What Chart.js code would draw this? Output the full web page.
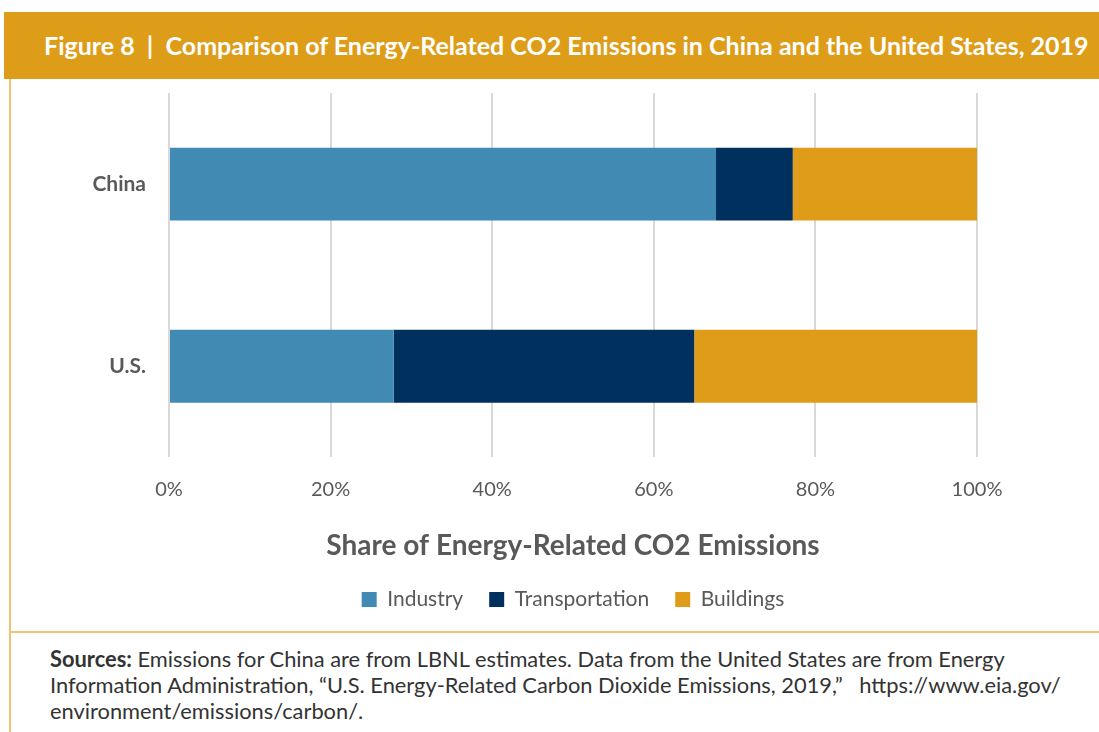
<!DOCTYPE html>
<html>
<head>
    <title>Figure 8</title>
    <script src="https://cdn.jsdelivr.net/npm/chart.js"></script>
    <style>
        body { margin: 0; background: #fff; width: 1099px; height: 732px; position: relative; overflow: hidden; font-family: Lato, sans-serif; }
        .header { position: absolute; left: 4px; top: 12px; width: 1095px; height: 67px; background: #DE9D19; }
        .header h1 { margin: 0; position: absolute; left: 40px; top: 18px; color: #fff; font-size: 25px; font-weight: bold; white-space: nowrap; }
        .vline { position: absolute; left: 9px; top: 79px; width: 2px; height: 653px; background: #EFC374; }
        .hline { position: absolute; left: 9px; top: 631px; width: 1090px; height: 2px; background: #EFC374; }
        .chartbox { position: absolute; left: 11px; top: 60px; width: 1088px; height: 570px; }
        .sources { position: absolute; left: 50px; top: 646px; color: #333; font-size: 21.85px; line-height: 26px; white-space: nowrap; }
    </style>
</head>
<body>
    <div class="header"><h1>Figure 8&nbsp; |&nbsp; Comparison of Energy-Related CO2 Emissions in China and the United States, 2019</h1></div>
    <div class="vline"></div>
    <div class="hline"></div>
    <div class="chartbox"><canvas id="co2Chart" width="1088" height="570"></canvas></div>
    <div class="sources"><b>Sources:</b> Emissions for China are from LBNL estimates. Data from the United States are from Energy<br>Information Administration, “U.S. Energy-Related Carbon Dioxide Emissions, 2019,”&nbsp;&nbsp; https://www.eia.gov/<br>environment/emissions/carbon/.</div>

    <script>
        // Shares of energy-related CO2 (percent)
        const countries = ['China', 'U.S.'];
        const industry = [67.7, 27.8];
        const transportation = [9.5, 37.2];
        const buildings = [22.8, 35.0];
        const xTicks = [0, 20, 40, 60, 80, 100];

        const grey = '#595959';

        // center the legend under the plot area instead of the whole canvas
        const legendUnderPlot = {
            id: 'legendUnderPlot',
            afterLayout(chart) {
                const lg = chart.legend;
                if (!lg) return;
                const shift = (chart.chartArea.left + chart.chartArea.right) / 2 - (lg.left + lg.right) / 2;
                lg.left += shift;
                lg.right += shift;
            }
        };

        const ctx = document.getElementById('co2Chart').getContext('2d');
        new Chart(ctx, {
            type: 'bar',
            data: {
                labels: countries,
                datasets: [
                    { label: 'Industry', data: industry, backgroundColor: '#418AB3' },
                    { label: 'Transportation', data: transportation, backgroundColor: '#00305E' },
                    { label: 'Buildings', data: buildings, backgroundColor: '#DF9C19' }
                ]
            },
            plugins: [legendUnderPlot],
            options: {
                indexAxis: 'y',
                responsive: false,
                animation: false,
                datasets: { bar: { barPercentage: 0.8, categoryPercentage: 0.5 } },
                layout: { padding: { top: 33, right: 122, bottom: 10 } },
                plugins: {
                    tooltip: { enabled: false },
                    legend: {
                        position: 'bottom',
                        labels: {
                            color: grey,
                            font: { family: 'Lato', size: 21 },
                            boxWidth: 15,
                            boxHeight: 15,
                            padding: 26
                        }
                    }
                },
                scales: {
                    x: {
                        stacked: true,
                        min: 0,
                        max: 100,
                        afterBuildTicks: s => { s.ticks = xTicks.map(v => ({ value: v })); },
                        ticks: {
                            color: grey,
                            font: { family: 'Lato', size: 20 },
                            padding: 20,
                            callback: v => v + '%'
                        },
                        grid: { color: '#D9D9D9', lineWidth: 2, drawTicks: false },
                        border: { display: false },
                        title: {
                            display: true,
                            text: 'Share of Energy-Related CO2 Emissions',
                            color: grey,
                            font: { family: 'Lato', size: 28, weight: 'bold' },
                            padding: { top: 8, bottom: 0 }
                        }
                    },
                    y: {
                        stacked: true,
                        afterFit: s => { s.width = 158; },
                        grid: { display: false },
                        border: { display: false },
                        ticks: {
                            color: grey,
                            font: { family: 'Lato', size: 21, weight: 'bold' },
                            padding: 15
                        }
                    }
                }
            }
        });
    </script>
</body>
</html>
